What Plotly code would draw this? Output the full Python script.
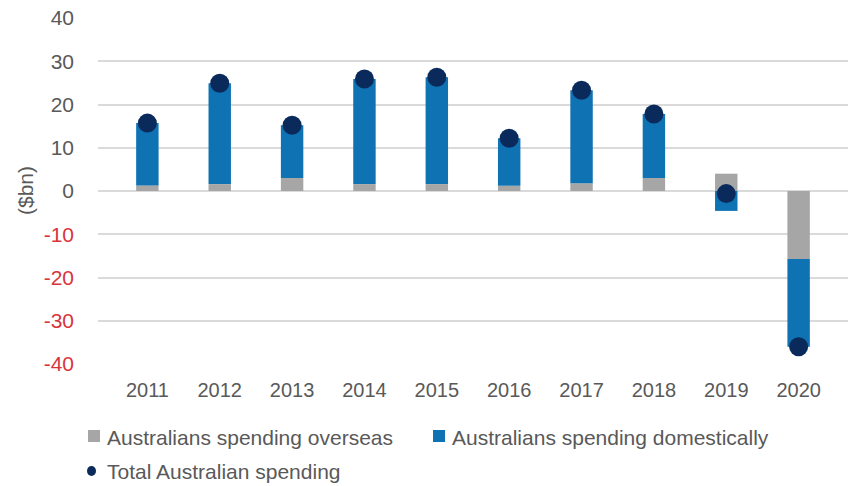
import plotly.graph_objects as go

# Annual change in Australian spending ($bn)
years = ["2011", "2012", "2013", "2014", "2015", "2016", "2017", "2018", "2019", "2020"]
overseas = [1.3, 1.6, 3.0, 1.6, 1.6, 1.2, 1.8, 3.0, 4.0, -15.7]
domestic = [14.4, 23.3, 12.2, 24.3, 24.7, 11.0, 21.5, 14.8, -4.6, -20.3]
total = [15.7, 24.9, 15.2, 25.9, 26.3, 12.2, 23.3, 17.8, -0.6, -36.0]

y_ticks = [40, 30, 20, 10, 0, -10, -20, -30, -40]

GREY = "#a6a6a6"
BLUE = "#0f72b2"
NAVY = "#0b2a5c"
TEXT = "#595959"
RED = "#d9343c"
FONT = "Arial, Liberation Sans, sans-serif"

series_names = [
    "Australians spending overseas",
    "Australians spending domestically",
    "Total Australian spending",
]

fig = go.Figure()
fig.add_trace(go.Bar(x=years, y=overseas, name=series_names[0],
                     marker=dict(color=GREY, line=dict(width=0)), width=0.31))
fig.add_trace(go.Bar(x=years, y=domestic, name=series_names[1],
                     marker=dict(color=BLUE, line=dict(width=0)), width=0.31))
fig.add_trace(go.Scatter(x=years, y=total, name=series_names[2], mode="markers",
                         marker=dict(color=NAVY, size=19, line=dict(width=0))))

tick_text = [
    f'<span style="color:{RED}">{v}</span>' if v < 0 else str(v) for v in y_ticks
]

fig.update_layout(
    width=848, height=486,
    margin=dict(l=98, r=0, t=18, b=122),
    barmode="relative",
    plot_bgcolor="white", paper_bgcolor="white",
    showlegend=False,
    font=dict(family=FONT, color=TEXT, size=20),
    xaxis=dict(
        showgrid=False, showline=False, zeroline=False, ticks="",
        tickfont=dict(size=20, color=TEXT),
        ticklabelstandoff=12,
    ),
    yaxis=dict(
        range=[-40, 40], tickmode="array", tickvals=y_ticks, ticktext=tick_text,
        showgrid=True, gridcolor="#dadada", gridwidth=1.5,
        zeroline=True, zerolinecolor="#dadada", zerolinewidth=1.5,
        showline=False, ticks="",
        tickfont=dict(size=21, color=TEXT),
        ticklabelstandoff=23,
    ),
)

# Axis title
fig.add_annotation(text="($bn)", xref="paper", yref="paper",
                   x=(25 - 98) / 750, y=0.5, textangle=-90, showarrow=False,
                   font=dict(size=21, color=TEXT), xanchor="center", yanchor="middle")

# Legend drawn in pixel terms relative to the figure
def px_x(px):
    return (px - 98) / 750

def px_y(py):
    return (486 - 122 - py) / 346

legend_font = dict(size=21, color=TEXT, family=FONT)
# row 1: overseas
fig.add_shape(type="rect", xref="paper", yref="paper",
              x0=px_x(88), x1=px_x(100), y0=px_y(442), y1=px_y(430),
              fillcolor=GREY, line=dict(width=0))
fig.add_annotation(text=series_names[0], xref="paper", yref="paper",
                   x=px_x(105), y=px_y(437), xanchor="left", yanchor="middle",
                   showarrow=False, font=legend_font)
# row 1: domestic
fig.add_shape(type="rect", xref="paper", yref="paper",
              x0=px_x(433), x1=px_x(445), y0=px_y(442), y1=px_y(430),
              fillcolor=BLUE, line=dict(width=0))
fig.add_annotation(text=series_names[1], xref="paper", yref="paper",
                   x=px_x(450), y=px_y(437), xanchor="left", yanchor="middle",
                   showarrow=False, font=legend_font)
# row 2: total
fig.add_shape(type="circle", xref="paper", yref="paper",
              x0=px_x(87), x1=px_x(96), y0=px_y(476), y1=px_y(466),
              fillcolor=NAVY, line=dict(width=0))
fig.add_annotation(text=series_names[2], xref="paper", yref="paper",
                   x=px_x(105), y=px_y(471), xanchor="left", yanchor="middle",
                   showarrow=False, font=legend_font)

fig.write_html("out.html")
